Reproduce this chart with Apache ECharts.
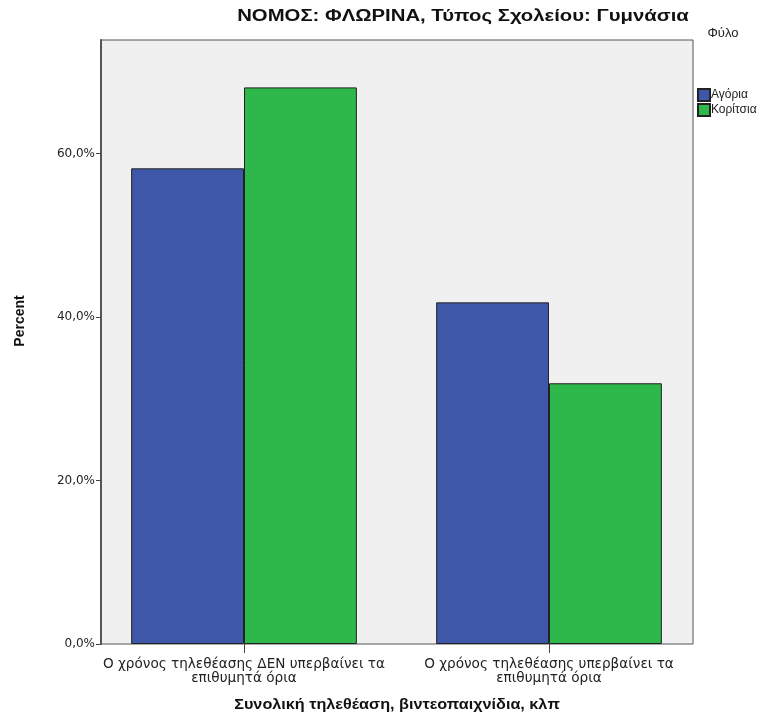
<!DOCTYPE html>
<html>
<head>
<meta charset="utf-8">
<script src="https://cdn.jsdelivr.net/npm/echarts@6/dist/echarts.min.js"></script>
<style>html,body{margin:0;padding:0;background:#fff}#c{width:775px;height:727px}</style>
</head>
<body>
<div id="c"></div>
<script>
const categories = ['Ο χρόνος τηλεθέασης ΔΕΝ υπερβαίνει τα\nεπιθυμητά όρια', 'Ο χρόνος τηλεθέασης υπερβαίνει τα\nεπιθυμητά όρια'];
const seriesNames = ['Αγόρια', 'Κορίτσια'];
const boys = [58.2, 41.8];
const girls = [68.1, 31.9];
const yTicks = [0, 20, 40, 60];
const yMax = 73.9;
const titleText = 'ΝΟΜΟΣ: ΦΛΩΡΙΝΑ, Τύπος Σχολείου: Γυμνάσια';
const xName = 'Συνολική τηλεθέαση, βιντεοπαιχνίδια, κλπ';
const yName = 'Percent';
const legendTitle = 'Φύλο';

const FONT = 'Liberation Sans, Arial, sans-serif';
const WFONT = 'DejaVu Sans, Verdana, sans-serif';
const chart = echarts.init(document.getElementById('c'), null, {renderer: 'canvas'});
chart.setOption({
  animation: false,
  backgroundColor: '#ffffff',
  textStyle: {fontFamily: WFONT},
  grid: [
    {left: 101, top: 40, width: 592, height: 604, show: true, backgroundColor: '#f0f0f0', borderColor: '#555', borderWidth: 1, z: 0},
    {left: 91.5, top: 40, width: 610, height: 604, show: false}
  ],
  graphic: [
    {type: 'text', x: 463, y: 17, scaleX: 1.27, style: {text: titleText, font: 'bold 16px ' + FONT, fill: '#111', align: 'center', verticalAlign: 'middle'}},
    {type: 'text', x: 397, y: 705, scaleX: 1.08, style: {text: xName, font: 'bold 15px ' + FONT, fill: '#111', align: 'center', verticalAlign: 'middle'}},
    {type: 'text', x: 20, y: 321, rotation: Math.PI / 2, style: {text: yName, font: 'bold 14px ' + FONT, fill: '#111', align: 'center', verticalAlign: 'middle'}},
    {type: 'text', x: 723, y: 33, style: {text: legendTitle, font: '13px ' + FONT, fill: '#222', align: 'center', verticalAlign: 'middle'}}
  ],
  legend: {
    orient: 'vertical', left: 697, top: 88, padding: 0, itemWidth: 12, itemHeight: 12, itemGap: 1,
    icon: 'rect', textStyle: {fontSize: 12, color: '#222', fontFamily: FONT, padding: [0, 0, 0, -4]},
    data: seriesNames
  },
  xAxis: [
    {gridIndex: 0, type: 'value', min: 0, max: 1, show: false},
    {gridIndex: 1, type: 'category', data: categories,
     axisLine: {show: false},
     axisTick: {show: true, alignWithLabel: true, length: 9, lineStyle: {color: '#444', width: 1}},
     axisLabel: {fontSize: 13.6, color: '#222', lineHeight: 14, margin: 13, fontFamily: WFONT, interval: 0}}
  ],
  yAxis: [
    {gridIndex: 0, type: 'value', min: 0, max: yMax,
     axisLine: {show: true, lineStyle: {color: '#555', width: 2}},
     axisTick: {show: true, length: 5, customValues: yTicks, lineStyle: {color: '#444'}},
     axisLabel: {customValues: yTicks, fontSize: 12, color: '#222', margin: 6, fontFamily: WFONT,
       formatter: v => v.toFixed(1).replace('.', ',') + '%'},
     splitLine: {show: false}},
    {gridIndex: 1, type: 'value', min: 0, max: yMax, show: false, splitLine: {show: false}}
  ],
  series: [
    {name: seriesNames[0], type: 'bar', xAxisIndex: 1, yAxisIndex: 1, data: boys, barGap: '0%', barCategoryGap: '26%',
     itemStyle: {color: '#3f57a8', borderColor: '#222', borderWidth: 1}},
    {name: seriesNames[1], type: 'bar', xAxisIndex: 1, yAxisIndex: 1, data: girls, barGap: '0%', barCategoryGap: '26%',
     itemStyle: {color: '#2eb84b', borderColor: '#222', borderWidth: 1}}
  ]
});
</script>
</body>
</html>
